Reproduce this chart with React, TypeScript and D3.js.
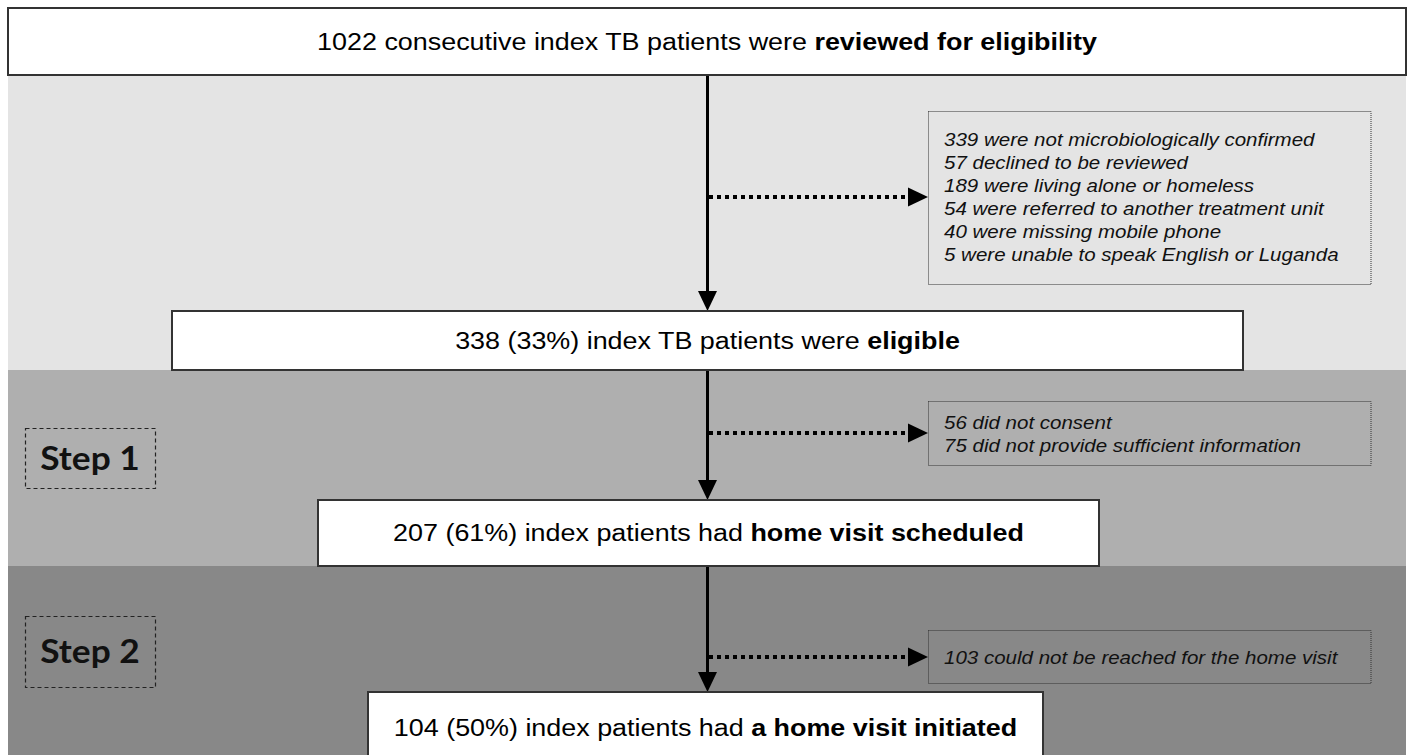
import React, { useRef, useEffect } from "react";
import { select, scaleLinear } from "d3";

// flow stages: plain part + bold part of each box label
const stagePlain = [
  "1022 consecutive index TB patients were ",
  "338 (33%) index TB patients were ",
  "207 (61%) index patients had ",
  "104 (50%) index patients had ",
];
const stageBold = [
  "reviewed for eligibility",
  "eligible",
  "home visit scheduled",
  "a home visit initiated",
];

// exclusions between stages
const exclusions1 = [
  "339 were not microbiologically confirmed",
  "57 declined to be reviewed",
  "189 were living alone or homeless",
  "54 were referred to another treatment unit",
  "40 were missing mobile phone",
  "5 were unable to speak English or Luganda",
];
const exclusions2 = ["56 did not consent", "75 did not provide sufficient information"];
const exclusions3 = ["103 could not be reached for the home visit"];
const exclusionLists = [exclusions1, exclusions2, exclusions3];

const stepLabels = ["", "Step 1", "Step 2"];
const bandColors = ["#e4e4e4", "#afafaf", "#888888"];

const W = 1408;
const H = 755;
const FONT = "'Liberation Sans', Arial, Helvetica, sans-serif";

const App = () => {
  const svgRef = useRef<SVGSVGElement>(null);

  useEffect(() => {
    document.body.style.margin = "0";
    const svg = select(svgRef.current);
    svg.selectAll("*").remove();

    const x = scaleLinear().domain([0, W]).range([0, W]);
    const cx = 707.5;
    const boxes = [
      { x0: 8, x1: 1406, y0: 8, y1: 75, ty: 41.5 },
      { x0: 172, x1: 1243, y0: 311, y1: 370, ty: 340.5 },
      { x0: 318, x1: 1099, y0: 500, y1: 566, ty: 533 },
      { x0: 368, x1: 1043, y0: 692, y1: 770, ty: 728 },
    ];
    const bands = [
      { y0: 75, y1: 370 },
      { y0: 370, y1: 566 },
      { y0: 566, y1: 755 },
    ];
    const exBoxes = [
      { y0: 111, y1: 284, arrowY: 197, mid: 197 },
      { y0: 401, y1: 465, arrowY: 433, mid: 434 },
      { y0: 630, y1: 683, arrowY: 657, mid: 657 },
    ];
    const stepBoxes = [null, { y0: 428, y1: 488 }, { y0: 616, y1: 687 }];

    const arrowHead = (tx: number, ty: number, dir: "down" | "right") => {
      const L = 20;
      const hw = 9.5;
      const d =
        dir === "down"
          ? `M${tx},${ty}L${tx - hw},${ty - L}L${tx + hw},${ty - L}Z`
          : `M${tx},${ty}L${tx - L},${ty - hw}L${tx - L},${ty + hw}Z`;
      svg.append("path").attr("d", d).attr("fill", "#000");
    };

    svg.append("rect").attr("width", W).attr("height", H).attr("fill", "#fff");

    svg
      .selectAll(".band")
      .data(bands)
      .join("rect")
      .attr("class", "band")
      .attr("x", x(8))
      .attr("y", (d) => d.y0)
      .attr("width", x(1406) - x(8))
      .attr("height", (d) => d.y1 - d.y0)
      .attr("fill", (d, i) => bandColors[i]);

    // vertical arrows between stages
    for (let i = 0; i < boxes.length - 1; i++) {
      const yEnd = boxes[i + 1].y0;
      svg
        .append("line")
        .attr("x1", x(cx))
        .attr("x2", x(cx))
        .attr("y1", boxes[i].y1)
        .attr("y2", yEnd - 12)
        .attr("stroke", "#000")
        .attr("stroke-width", 3);
      arrowHead(x(cx), yEnd, "down");
    }

    // stage boxes
    boxes.forEach((b, i) => {
      svg
        .append("rect")
        .attr("x", x(b.x0))
        .attr("y", b.y0)
        .attr("width", x(b.x1) - x(b.x0))
        .attr("height", b.y1 - b.y0)
        .attr("fill", "#fff")
        .attr("stroke", "#333")
        .attr("stroke-width", 2);
      const g = svg
        .append("g")
        .attr("transform", `translate(${x((b.x0 + b.x1) / 2)},${b.ty}) scale(1.17,1)`);
      const t = g
        .append("text")
        .attr("dy", "0.35em")
        .attr("text-anchor", "middle")
        .attr("font-family", FONT)
        .attr("font-size", 23)
        .attr("fill", "#000");
      t.append("tspan").text(stagePlain[i]);
      t.append("tspan").attr("font-weight", "bold").text(stageBold[i]);
    });

    // exclusion arrows and boxes
    exBoxes.forEach((b, i) => {
      svg
        .append("line")
        .attr("x1", x(cx + 1.5))
        .attr("x2", x(910))
        .attr("y1", b.arrowY)
        .attr("y2", b.arrowY)
        .attr("stroke", "#000")
        .attr("stroke-width", 4)
        .attr("stroke-dasharray", "4,4");
      arrowHead(x(928), b.arrowY, "right");
      svg
        .append("rect")
        .attr("x", x(928.5))
        .attr("y", b.y0 + 0.5)
        .attr("width", x(1371) - x(928.5))
        .attr("height", b.y1 - b.y0)
        .attr("fill", "none")
        .attr("stroke", "#333")
        .attr("stroke-width", 1)
        .attr("stroke-dasharray", "1,1");
      const lines = exclusionLists[i];
      const lh = 23;
      const top = b.mid - ((lines.length - 1) * lh) / 2;
      lines.forEach((line, j) => {
        svg
          .append("g")
          .attr("transform", `translate(${x(944)},${top + j * lh}) scale(1.08,1)`)
          .append("text")
          .attr("dy", "0.35em")
          .attr("font-family", FONT)
          .attr("font-style", "italic")
          .attr("font-size", 19)
          .attr("fill", "#111")
          .text(line);
      });
    });

    // step labels
    stepBoxes.forEach((b, i) => {
      if (!b) return;
      svg
        .append("rect")
        .attr("x", x(25.5))
        .attr("y", b.y0 + 0.5)
        .attr("width", x(155.5) - x(25.5))
        .attr("height", b.y1 - b.y0)
        .attr("fill", "none")
        .attr("stroke", "#222")
        .attr("stroke-width", 1.2)
        .attr("stroke-dasharray", "4,3");
      svg
        .append("g")
        .attr("transform", `translate(${x(90)},${(b.y0 + b.y1) / 2}) scale(1.07,1)`)
        .append("text")
        .attr("dy", "0.35em")
        .attr("text-anchor", "middle")
        .attr("font-family", "Lato, 'Open Sans', sans-serif")
        .attr("font-weight", "bold")
        .attr("font-size", 33)
        .attr("fill", "#111")
        .text(stepLabels[i]);
    });
  }, []);

  return (
    <svg
      ref={svgRef}
      width={W}
      height={H}
      style={{ display: "block", position: "absolute", left: 0, top: 0 }}
    />
  );
};

export default App;
